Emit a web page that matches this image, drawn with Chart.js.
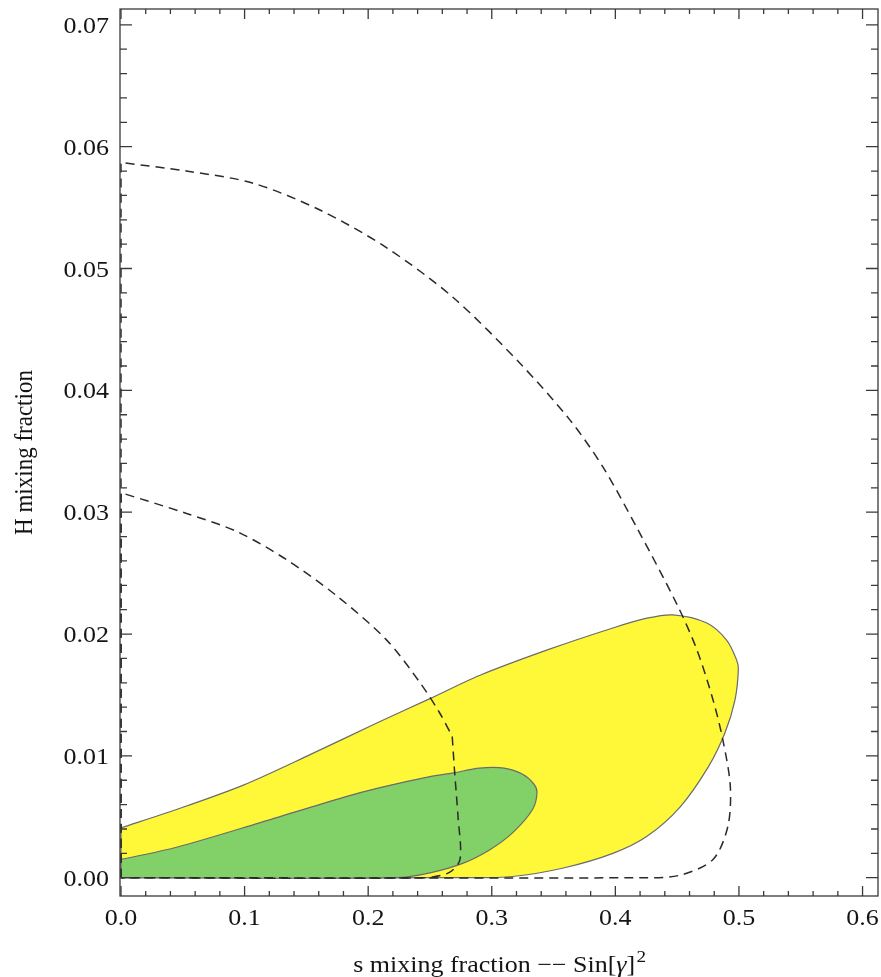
<!DOCTYPE html>
<html>
<head>
<meta charset="utf-8">
<script src="https://cdn.jsdelivr.net/npm/chart.js@4.4.1/dist/chart.umd.min.js"></script>
<style>
  html, body { margin: 0; padding: 0; background: #fff; }
  #wrap { width: 881px; height: 977px; }
</style>
</head>
<body>
<div id="wrap"><canvas id="mixingChart" width="881" height="977"></canvas></div>
<script>
// axis ticks
const xTickValues = [0, 0.1, 0.2, 0.3, 0.4, 0.5, 0.6];
const xTickLabels = ['0.0', '0.1', '0.2', '0.3', '0.4', '0.5', '0.6'];
const yTickValues = [0, 0.01, 0.02, 0.03, 0.04, 0.05, 0.06, 0.07];
const yTickLabels = ['0.00', '0.01', '0.02', '0.03', '0.04', '0.05', '0.06', '0.07'];

// yellow allowed region, traced clockwise from the left edge
const yellowX = [0, 0.045, 0.099, 0.153, 0.207, 0.250, 0.290, 0.345, 0.398, 0.4256, 0.4466, 0.474, 0.490, 0.498, 0.4995,
                 0.4968, 0.4887, 0.4752, 0.4523, 0.4256, 0.398, 0.358, 0.317, 0.28, 0, 0, 0, 0];
const yellowY = [0.0041, 0.0056, 0.0076, 0.0101, 0.0127, 0.0147, 0.0166, 0.0187, 0.0205, 0.0213, 0.02157, 0.0209, 0.0195, 0.0179, 0.0171,
                 0.0146, 0.0119, 0.0091, 0.0058, 0.0034, 0.0020, 0.0008, 0.0001, 0, 0, 0, 0.0041, 0.0041];

// green allowed region
const greenX = [0, 0.045, 0.112, 0.180, 0.2096, 0.250, 0.269, 0.290, 0.310, 0.325, 0.334, 0.3366,
                0.333, 0.317, 0.2985, 0.277, 0.250, 0.223, 0, 0, 0, 0];
const greenY = [0.0015, 0.0025, 0.0045, 0.0066, 0.0074, 0.0083, 0.0086, 0.0090, 0.0090, 0.0085, 0.0077, 0.0070,
                0.0056, 0.0037, 0.0023, 0.0012, 0.0004, 0, 0, 0, 0.0015, 0.0015];

// dashed contours
const outerDashX = [0, 0, 0, 0.053, 0.107, 0.161, 0.215, 0.269, 0.323, 0.363, 0.390, 0.417, 0.450, 0.466, 0.479, 0.487,
                    0.493, 0.491, 0.479, 0.452, 0.42, 0];
const outerDashY = [0, 0.0587, 0.0587, 0.0580, 0.0570, 0.0548, 0.0517, 0.0476, 0.0422, 0.0376, 0.0337, 0.0288, 0.0224, 0.0187, 0.0146, 0.0113,
                    0.0075, 0.0042, 0.0015, 0.0002, 0, 0];
const innerDashX = [0, 0, 0, 0.053, 0.094, 0.134, 0.175, 0.215, 0.242, 0.258, 0.268, 0.268, 0.270, 0.2727, 0.2743, 0.265, 0.244, 0];
const innerDashY = [0, 0.0316, 0.0316, 0.0299, 0.0284, 0.0261, 0.0231, 0.0195, 0.0160, 0.0135, 0.0116, 0.0116, 0.0086, 0.0050, 0.0015, 0.0004, 0, 0];

const TEXT_STRETCH = 1.13;
const SERIF = '"Liberation Serif", "Times New Roman", serif';

function toPoints(xs, ys) {
    return xs.map((x, i) => ({ x: x, y: ys[i] }));
}

function stretchedText(ctx, text, x, y, align) {
    ctx.save();
    ctx.translate(x, y);
    ctx.scale(TEXT_STRETCH, 1);
    ctx.textAlign = align;
    ctx.fillText(text, 0, 0);
    ctx.restore();
}

// frame with inward ticks on all four sides, plus labels
const frameTicks = {
    id: 'frameTicks',
    afterDraw(chart) {
        const { ctx, chartArea: a, scales: { x, y } } = chart;
        ctx.save();
        ctx.strokeStyle = '#3a3a3a';
        ctx.lineWidth = 1.3;
        ctx.strokeRect(a.left, a.top, a.right - a.left, a.bottom - a.top);

        ctx.beginPath();
        for (let i = 0; i <= 30; i++) {
            const px = x.getPixelForValue(i * 0.02);
            const len = i % 5 === 0 ? 10 : 5;
            ctx.moveTo(px, a.bottom);
            ctx.lineTo(px, a.bottom - len);
            ctx.moveTo(px, a.top);
            ctx.lineTo(px, a.top + len);
        }
        for (let i = 0; i <= 35; i++) {
            const py = y.getPixelForValue(i * 0.002);
            const len = i % 5 === 0 ? 12 : 7;
            ctx.moveTo(a.left, py);
            ctx.lineTo(a.left + len, py);
            ctx.moveTo(a.right, py);
            ctx.lineTo(a.right - len, py);
        }
        ctx.stroke();

        ctx.fillStyle = '#141414';
        ctx.textBaseline = 'alphabetic';
        ctx.font = '23px ' + SERIF;
        xTickValues.forEach((v, i) => {
            stretchedText(ctx, xTickLabels[i], x.getPixelForValue(v), a.bottom + 29, 'center');
        });
        yTickValues.forEach((v, i) => {
            stretchedText(ctx, yTickLabels[i], a.left - 11, y.getPixelForValue(v) + 8, 'right');
        });

        // y axis title
        ctx.save();
        ctx.translate(31.5, (a.top + a.bottom) / 2);
        ctx.scale(TEXT_STRETCH, 1);
        ctx.rotate(-Math.PI / 2);
        ctx.textAlign = 'center';
        ctx.fillText('H mixing fraction', 0, 0);
        ctx.restore();

        // x axis title: s mixing fraction -- Sin[γ]²
        const parts = [
            { t: 's mixing fraction \u2212\u2212 Sin[', f: '23px ' + SERIF, dy: 0 },
            { t: '\u03b3', f: 'italic 23px ' + SERIF, dy: 0 },
            { t: ']', f: '23px ' + SERIF, dy: 0 },
            { t: '2', f: '17px ' + SERIF, dy: -10 }
        ];
        let total = 0;
        parts.forEach(p => { ctx.font = p.f; p.w = ctx.measureText(p.t).width; total += p.w; });
        ctx.save();
        ctx.translate((a.left + a.right) / 2, 972);
        ctx.scale(TEXT_STRETCH, 1);
        ctx.textAlign = 'left';
        let cx = -total / 2;
        parts.forEach(p => {
            ctx.font = p.f;
            ctx.fillText(p.t, cx, p.dy);
            cx += p.w + (p.t === ']' ? 1 : 0);
        });
        ctx.restore();
        ctx.restore();
    }
};

const regionStyle = {
    showLine: true,
    fill: 'shape',
    borderColor: '#6b6b6b',
    borderWidth: 1.2,
    pointRadius: 0,
    tension: 0.3
};

const dashStyle = {
    showLine: true,
    fill: false,
    borderColor: '#2a2a2a',
    borderWidth: 1.5,
    borderDash: [9, 6],
    pointRadius: 0,
    tension: 0.3
};

new Chart(document.getElementById('mixingChart').getContext('2d'), {
    type: 'scatter',
    data: {
        datasets: [
            Object.assign({ label: 'yellow', data: toPoints(yellowX, yellowY), backgroundColor: 'rgb(255, 248, 56)', order: 3 }, regionStyle),
            Object.assign({ label: 'green', data: toPoints(greenX, greenY), backgroundColor: 'rgb(130, 208, 104)', order: 2 }, regionStyle),
            Object.assign({ label: 'outer', data: toPoints(outerDashX, outerDashY), order: 1 }, dashStyle),
            Object.assign({ label: 'inner', data: toPoints(innerDashX, innerDashY), order: 0 }, dashStyle)
        ]
    },
    options: {
        responsive: false,
        animation: false,
        events: [],
        layout: { padding: { left: 120, top: 9, right: 3, bottom: 81 } },
        plugins: {
            legend: { display: false },
            tooltip: { enabled: false }
        },
        scales: {
            x: { type: 'linear', display: false, min: -0.0008, max: 0.6125 },
            y: { type: 'linear', display: false, min: -0.0015, max: 0.0713 }
        }
    },
    plugins: [frameTicks]
});
</script>
</body>
</html>
